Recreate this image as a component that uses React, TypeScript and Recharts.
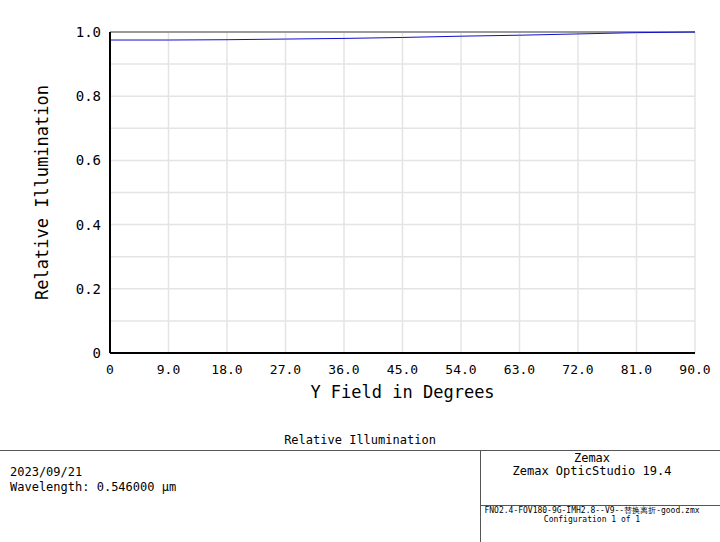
import { LineChart, Line, XAxis, YAxis, CartesianGrid, ReferenceLine } from "recharts";

const fieldDeg = [0, 9, 18, 27, 36, 45, 54, 63, 72, 81, 90];
const relIllum = [0.975, 0.975, 0.976, 0.978, 0.98, 0.983, 0.987, 0.99, 0.994, 0.998, 1.0];
const xTicks = [0, 9, 18, 27, 36, 45, 54, 63, 72, 81, 90];
const yTicks = [0, 0.1, 0.2, 0.3, 0.4, 0.5, 0.6, 0.7, 0.8, 0.9, 1.0];

const data = fieldDeg.map((f, i) => ({ field: f, ri: relIllum[i] }));

const mono = "'DejaVu Sans Mono', monospace";

const fmtX = (v: number) => (v === 0 ? "0" : v.toFixed(1));
const fmtY = (v: number) => {
  const r = Math.round(v * 10);
  if (r % 2 !== 0) return "";
  if (r === 0) return "0";
  return (r / 10).toFixed(1);
};

export default function App() {
  return (
    <div style={{ position: "absolute", left: 0, top: 0, width: 720, height: 542, background: "#fff", fontFamily: mono }}>
      <LineChart width={720} height={410} data={data} margin={{ top: 32, right: 25, bottom: 0, left: 0 }}>
        <CartesianGrid stroke="#e4e4e4" strokeWidth={1.5} />
        <XAxis
          dataKey="field"
          type="number"
          domain={[0, 90]}
          ticks={xTicks}
          tickFormatter={fmtX}
          height={57}
          tickLine={false}
          tickSize={0}
          tickMargin={12}
          stroke="#000"
          strokeWidth={2}
          tick={{ fill: "#000", fontSize: 13, fontFamily: mono }}
          label={{ value: "Y Field in Degrees", position: "insideBottom", offset: 12, fill: "#000", fontSize: 17, fontFamily: mono }}
        />
        <YAxis
          type="number"
          domain={[0, 1]}
          ticks={yTicks}
          tickFormatter={fmtY}
          width={110}
          interval={0}
          tickLine={false}
          tickSize={0}
          tickMargin={9}
          stroke="#000"
          strokeWidth={2}
          tick={{ fill: "#000", fontSize: 14, fontFamily: mono }}
          label={{ value: "Relative Illumination", angle: -90, position: "center", dx: -13, fill: "#000", fontSize: 17, fontFamily: mono }}
        />
        <ReferenceLine y={1} stroke="#808080" strokeWidth={1.5} />
        <Line type="linear" dataKey="ri" stroke="#1010d0" strokeWidth={1} dot={false} isAnimationActive={false} />
      </LineChart>

      <div style={{ position: "absolute", left: 0, width: 720, top: 433, textAlign: "center", fontSize: 12, color: "#000" }}>
        Relative Illumination
      </div>
      <div style={{ position: "absolute", left: 0, top: 450, width: 720, height: 1, background: "#555" }} />
      <div style={{ position: "absolute", left: 480, top: 450, width: 1, height: 92, background: "#555" }} />
      <div style={{ position: "absolute", left: 480, top: 505, width: 240, height: 1, background: "#555" }} />
      <div style={{ position: "absolute", left: 10, top: 465, fontSize: 12, lineHeight: "15px", color: "#000" }}>
        2023/09/21
        <br />
        Wavelength: 0.546000 µm
      </div>
      <div style={{ position: "absolute", left: 482, width: 220, top: 452, textAlign: "center", fontSize: 12, lineHeight: "13px", color: "#000" }}>
        Zemax
        <br />
        Zemax OpticStudio 19.4
      </div>
      <div style={{ position: "absolute", left: 482, width: 220, top: 506, textAlign: "center", fontSize: 8, lineHeight: "9px", color: "#000", whiteSpace: "nowrap" }}>
        FNO2.4-FOV180-9G-IMH2.8--V9--替换离折-good.zmx
        <br />
        Configuration 1 of 1
      </div>
    </div>
  );
}
